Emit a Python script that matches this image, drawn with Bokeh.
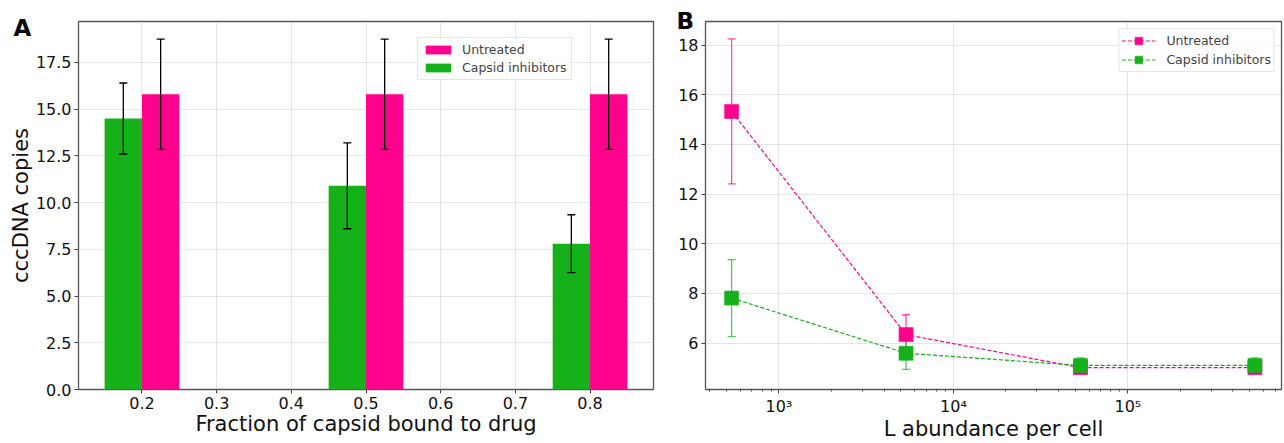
from bokeh.plotting import figure
from bokeh.layouts import row
from bokeh.models import (Range1d, ColumnDataSource, Whisker, TeeHead, Legend, LegendItem,
                          Title, FixedTicker, PrintfTickFormatter, CustomJSTickFormatter)
from bokeh.embed import file_html
from bokeh.resources import INLINE

# ---------------- data ----------------
fractions = [0.2, 0.5, 0.8]
inhib_vals = [14.5, 10.9, 7.8]
inhib_err = [1.9, 2.3, 1.55]
untreated_vals = [15.8, 15.8, 15.8]
untreated_err = [2.95, 2.95, 2.95]
a_xticks = [0.2, 0.3, 0.4, 0.5, 0.6, 0.7, 0.8]
a_yticks = [0.0, 2.5, 5.0, 7.5, 10.0, 12.5, 15.0, 17.5]

abundance = [535, 5350, 53500, 535000]
b_untreated = [15.33, 6.34, 5.01, 5.01]
b_untreated_err = [2.92, 0.8, 0.05, 0.05]
b_inhib = [7.81, 5.59, 5.10, 5.10]
b_inhib_err = [1.55, 0.65, 0.3, 0.3]
b_xticks = [1e3, 1e4, 1e5]
b_yticks = [6, 8, 10, 12, 14, 16, 18]

PINK = "#FF028D"
GREEN = "#15B01A"
FONT = "DejaVu Sans"
BAR_W = 0.05
H = 443
FH_EST = 375


def style(p):
    p.outline_line_color = "#555555"
    p.outline_line_width = 1.3
    p.background_fill_color = "white"
    p.border_fill_color = "white"
    for ax in p.axis:
        ax.axis_line_color = None
        ax.major_tick_line_color = "#444444"
        ax.major_tick_out = 4
        ax.major_tick_in = 0
        ax.minor_tick_line_color = None
        ax.major_label_text_font = FONT
        ax.major_label_text_font_size = "16px"
        ax.major_label_text_color = "#111111"
        ax.major_label_standoff = 3
        ax.axis_label_text_font = FONT
        ax.axis_label_text_font_size = "21px"
        ax.axis_label_text_font_style = "normal"
        ax.axis_label_text_color = "#111111"
        ax.axis_label_standoff = 0
    for g in p.grid:
        g.grid_line_color = "#cccccc"
        g.grid_line_dash = "1 1"
        g.grid_line_width = 1
    p.xaxis.axis_label_text_line_height = 0.85


def letter(p, text, off, standoff):
    p.add_layout(Title(text=text, align="left", offset=off, standoff=standoff,
                       vertical_align="bottom", text_font=FONT, text_font_size="23px",
                       text_font_style="bold", text_color="black"), "above")


# ---------------- panel A ----------------
pa = figure(width=663, height=H, output_backend="svg", toolbar_location=None,
            title=None, x_range=Range1d(0.115, 0.885), y_range=Range1d(0, 19.69),
            min_border_left=78, min_border_right=10, min_border_top=18, min_border_bottom=40)
style(pa)

src_g = ColumnDataSource(dict(x=[f - BAR_W / 2 for f in fractions], top=inhib_vals,
                              upper=[v + e for v, e in zip(inhib_vals, inhib_err)],
                              lower=[v - e for v, e in zip(inhib_vals, inhib_err)]))
src_p = ColumnDataSource(dict(x=[f + BAR_W / 2 for f in fractions], top=untreated_vals,
                              upper=[v + e for v, e in zip(untreated_vals, untreated_err)],
                              lower=[v - e for v, e in zip(untreated_vals, untreated_err)]))

rg = pa.vbar(x="x", top="top", width=BAR_W, source=src_g, fill_color=GREEN, line_color=None)
rp = pa.vbar(x="x", top="top", width=BAR_W, source=src_p, fill_color=PINK, line_color=None)

for s in (src_g, src_p):
    pa.add_layout(Whisker(base="x", upper="upper", lower="lower", source=s, level="annotation",
                          line_color="black", line_width=1.3,
                          upper_head=TeeHead(size=8, line_color="black", line_width=1.3),
                          lower_head=TeeHead(size=8, line_color="black", line_width=1.3)))

pa.xaxis.ticker = FixedTicker(ticks=a_xticks)
pa.xaxis.formatter = PrintfTickFormatter(format="%.1f")
pa.yaxis.ticker = FixedTicker(ticks=a_yticks)
pa.yaxis.formatter = PrintfTickFormatter(format="%.1f")
pa.xgrid.ticker = FixedTicker(ticks=a_xticks)
pa.ygrid.ticker = FixedTicker(ticks=a_yticks)
pa.yaxis.axis_label = "cccDNA copies"
pa.xaxis.axis_label = "Fraction of capsid bound to drug"

leg_a = Legend(items=[LegendItem(label="Untreated", renderers=[rp]),
                      LegendItem(label="Capsid inhibitors", renderers=[rg])],
               location=(339, FH_EST - 25 - 41), label_text_font=FONT,
               label_text_font_size="12.5px",
               glyph_width=32, glyph_height=11, label_height=11, spacing=3, padding=4,
               label_standoff=8, border_line_color="#cccccc", border_line_width=1,
               background_fill_alpha=0.8, margin=0)
pa.add_layout(leg_a)
letter(pa, "A", -65, -38)

# ---------------- panel B ----------------
pb = figure(width=621, height=H, output_backend="svg", toolbar_location=None,
            title=None, x_axis_type="log", x_range=Range1d(379, 7.6e5),
            y_range=Range1d(4.13, 18.95),
            min_border_left=42, min_border_right=3, min_border_top=21, min_border_bottom=40)
style(pb)
pb.xaxis.axis_label_standoff = -2

minor = [k * 10 ** n for n in (2, 3, 4, 5) for k in range(2, 10)]
pb.xaxis.ticker = FixedTicker(ticks=b_xticks, minor_ticks=minor)
pb.xaxis.formatter = CustomJSTickFormatter(code="""
const sup = {'0':'\u2070','1':'\u00b9','2':'\u00b2','3':'\u00b3','4':'\u2074','5':'\u2075','6':'\u2076','7':'\u2077','8':'\u2078','9':'\u2079','-':'\u207b'};
const e = Math.round(Math.log10(tick));
return '10' + String(e).split('').map(c => sup[c]).join('');
""")
pb.xaxis.minor_tick_line_color = "#444444"
pb.xaxis.minor_tick_out = 2
pb.xaxis.minor_tick_in = 0
pb.yaxis.ticker = FixedTicker(ticks=b_yticks)
pb.xgrid.ticker = FixedTicker(ticks=b_xticks)
pb.ygrid.ticker = FixedTicker(ticks=b_yticks)
pb.xaxis.axis_label = "L abundance per cell"

items = []
for name, vals, errs, col in (("Untreated", b_untreated, b_untreated_err, PINK),
                              ("Capsid inhibitors", b_inhib, b_inhib_err, GREEN)):
    s = ColumnDataSource(dict(x=abundance, y=vals,
                              upper=[v + e for v, e in zip(vals, errs)],
                              lower=[v - e for v, e in zip(vals, errs)]))
    pb.add_layout(Whisker(base="x", upper="upper", lower="lower", source=s,
                          line_color=col, line_alpha=0.7, line_width=1.3,
                          upper_head=TeeHead(size=8, line_color=col, line_alpha=0.7, line_width=1.3),
                          lower_head=TeeHead(size=8, line_color=col, line_alpha=0.7, line_width=1.3)))
    rl = pb.line("x", "y", source=s, line_color=col, line_dash="4 2", line_width=1.2)
    rm = pb.scatter("x", "y", source=s, marker="square", size=14, fill_color=col,
                    line_color=col, line_alpha=0.6)
    items.append(LegendItem(label=name, renderers=[rl, rm]))

leg_b = Legend(items=items, location="top_right", margin=7, label_text_font=FONT,
               label_text_font_size="12.5px", glyph_width=34, glyph_height=19,
               label_height=19, spacing=0, padding=2, label_standoff=11,
               border_line_color="#cccccc", border_line_width=1, background_fill_alpha=0.8)
pb.add_layout(leg_b)
letter(pb, "B", -29, -25)

layout = row(pa, pb)
open("out.html", "w").write(file_html(layout, INLINE))
